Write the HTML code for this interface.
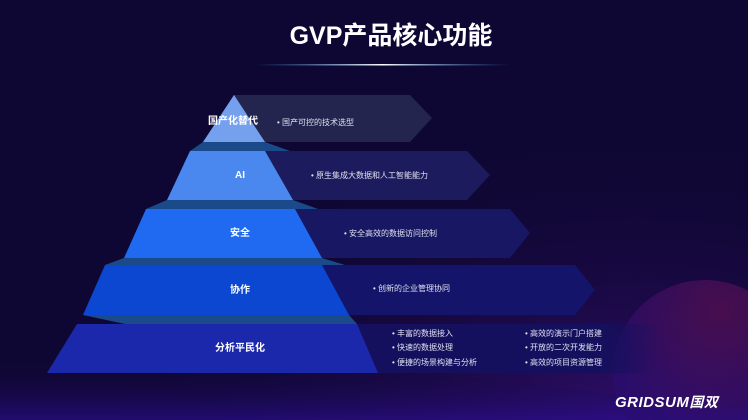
<!DOCTYPE html>
<html><head><meta charset="utf-8"><style>
html,body{margin:0;padding:0;background:#0f0733;width:748px;height:420px;overflow:hidden;}
svg{display:block;position:absolute;left:0;top:0;}
text{font-family:"Liberation Sans","Noto Sans CJK SC",sans-serif;}
</style></head><body>
<svg width="748" height="420" viewBox="0 0 748 420" xmlns="http://www.w3.org/2000/svg">
<defs>
<radialGradient id="glow" cx="0.85" cy="1" r="0.7">
<stop offset="0" stop-color="#3a0f7a" stop-opacity="0.8"/>
<stop offset="1" stop-color="#0f0733" stop-opacity="0"/>
</radialGradient>
<radialGradient id="circ" cx="0.8" cy="0.2" r="0.9">
<stop offset="0" stop-color="#5a1050"/>
<stop offset="1" stop-color="#2a0d70"/>
</radialGradient>
<linearGradient id="line" x1="0" x2="1">
<stop offset="0" stop-color="#3aa8ff" stop-opacity="0"/>
<stop offset="0.5" stop-color="#ffffff"/>
<stop offset="1" stop-color="#3aa8ff" stop-opacity="0"/>
</linearGradient>
<linearGradient id="b5" x1="0" x2="1">
<stop offset="0" stop-color="#15105e"/>
<stop offset="0.8" stop-color="#15105e"/>
<stop offset="1" stop-color="#15105e" stop-opacity="0"/>
</linearGradient>
<linearGradient id="bot" x1="0" y1="0" x2="0" y2="1">
<stop offset="0" stop-color="#0f0733" stop-opacity="0"/>
<stop offset="1" stop-color="#2a0d8a" stop-opacity="0.7"/>
</linearGradient>
</defs>
<rect width="748" height="420" fill="#0f0733"/>
<rect width="748" height="420" fill="url(#glow)"/>
<path d="M0 360 Q300 350 748 410 L748 420 L0 420 Z" fill="url(#bot)"/>
<path d="M626.5 420 A92 92 0 0 1 748 290.7 L748 420 Z" fill="url(#circ)" opacity="0.7"/>

<text x="391" y="44" font-size="25" font-weight="bold" fill="#fff" text-anchor="middle">GVP产品核心功能</text>
<rect x="255" y="64" width="255" height="1.5" fill="url(#line)"/>

<polygon points="203,142 265,142 290,151 190,151" fill="#1a4a8a"/>
<polygon points="167,200 293,200 318,209 146,209" fill="#1a4a8a"/>
<polygon points="124,258 322,258 345,265 105,265" fill="#1a4a8a"/>
<polygon points="83,315 349,315 357,324 125,324" fill="#1a4a8a"/>

<polygon points="233,95 410,95 432,118 410,142 265,142" fill="#24254f"/>
<polygon points="265,151 467,151 490,175 467,200 293,200" fill="#1c1b5e"/>
<polygon points="295,209 510,209 530,233 510,258 322,258" fill="#171763"/>
<polygon points="322,265 575,265 595,290 575,315 349,315" fill="#13146a"/>
<polygon points="357,324 660,324 660,373 378,373" fill="url(#b5)"/>

<polygon points="234,95 265,142 203,142" fill="#74a0ee"/>
<polygon points="190,151 265,151 293,200 167,200" fill="#4a88f0"/>
<polygon points="146,209 295,209 322,258 124,258" fill="#1f6af0"/>
<polygon points="105,265 322,265 349,315 83,315" fill="#0c47d2"/>
<polygon points="77,324 357,324 378,373 47,373" fill="#1c28ac"/>

<g font-size="10" font-weight="bold" fill="#fff" text-anchor="middle">
<text x="233" y="124">国产化替代</text>
<text x="240" y="178">AI</text>
<text x="240" y="236">安全</text>
<text x="240" y="293">协作</text>
<text x="240" y="351">分析平民化</text>
</g>
<g font-size="8" fill="#e0e0f0">
<text x="277" y="125">•  国产可控的技术选型</text>
<text x="311" y="178">•  原生集成大数据和人工智能能力</text>
<text x="344" y="236">•  安全高效的数据访问控制</text>
<text x="373" y="291">•  创新的企业管理协同</text>
<text x="392" y="336">•  丰富的数据接入</text>
<text x="392" y="350">•  快速的数据处理</text>
<text x="392" y="365">•  便捷的场景构建与分析</text>
<text x="525" y="336">•  高效的演示门户搭建</text>
<text x="525" y="350">•  开放的二次开发能力</text>
<text x="525" y="365">•  高效的项目资源管理</text>
</g>
<text x="615" y="407" font-size="15" font-weight="bold" font-style="italic" fill="#fff" letter-spacing="0.5">GRIDSUM<tspan font-size="14">国双</tspan></text>
</svg>
</body></html>
